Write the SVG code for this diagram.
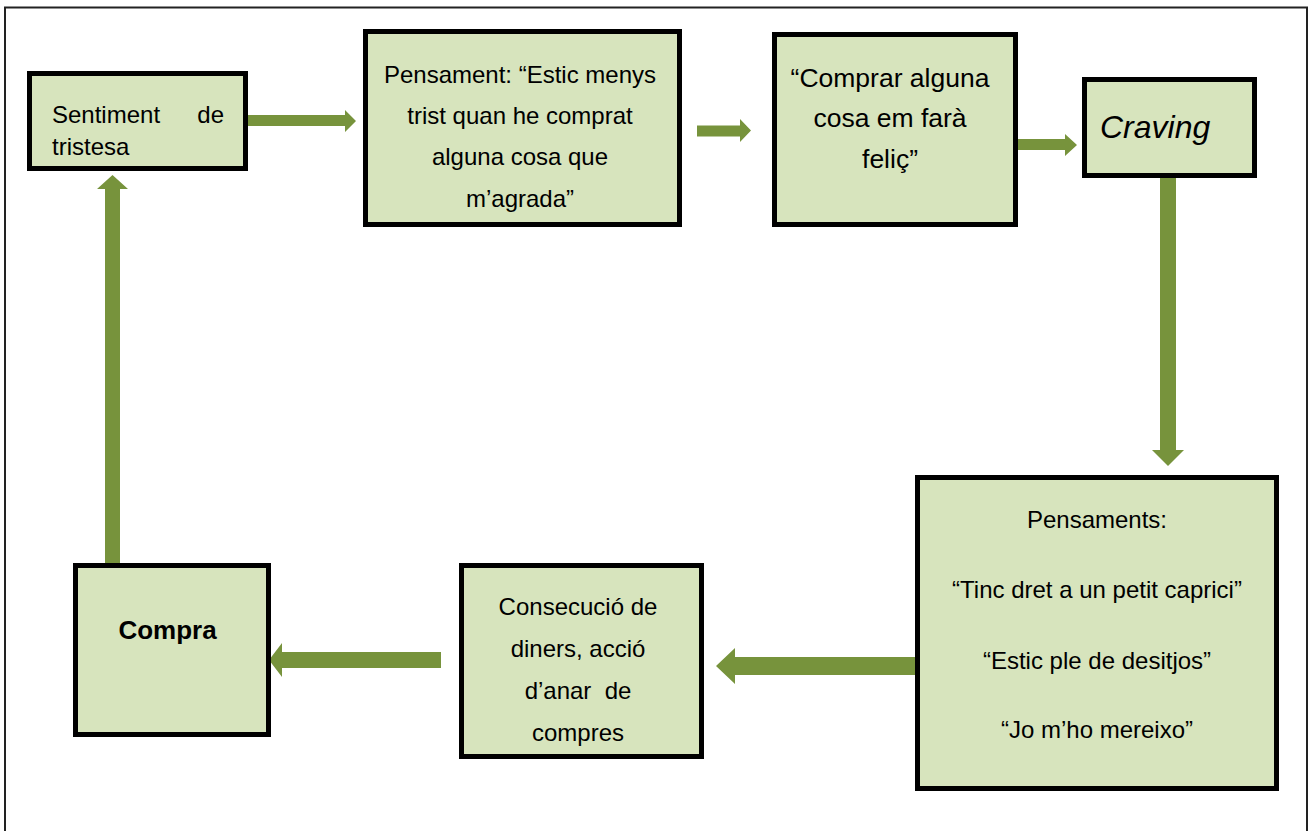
<svg xmlns="http://www.w3.org/2000/svg" width="1311" height="831" viewBox="0 0 1311 831">
<style>
.box{fill:#D7E4BD;stroke:#000;stroke-width:5}
.arr{fill:#77933C;stroke:none}
.t{font-family:"Liberation Sans",Arial,sans-serif;font-size:24px;fill:#000}
.c{text-anchor:middle}
</style>
<rect x="0" y="0" width="1311" height="831" fill="#fff"/>
<path d="M5,832 V7.5 H1307 V832" fill="none" stroke="#222" stroke-width="2"/>
<g id="connectors">
<polygon class="arr" points="243,115 345,115 345,110 356,121 345,132 345,126 243,126"/>
<polygon class="arr" points="697,125.5 740,125.5 740,119 751,130.5 740,142 740,136.5 697,136.5"/>
<polygon class="arr" points="1017,139 1065,139 1065,134 1077,145 1065,156 1065,150 1017,150"/>
<polygon class="arr" points="1160,178 1176,178 1176,450 1184,450 1168,466 1152,450 1160,450"/>
<polygon class="arr" points="915,657 735,657 735,648 716,666 735,684 735,675 915,675"/>
<polygon class="arr" points="441,652 282,652 282,643 269,660 282,677 282,668 441,668"/>
<polygon class="arr" points="105,563 105,189 97,189 112.5,175 128,189 120,189 120,563"/>
</g>
<g id="n1">
<rect class="box" x="29.5" y="73.5" width="216" height="95"/>
<text class="t" x="52" y="123">Sentiment</text>
<text class="t" x="224" y="123" text-anchor="end">de</text>
<text class="t" x="52" y="155">tristesa</text>
</g>
<g id="n2">
<rect class="box" x="365.5" y="31.5" width="314" height="193"/>
<text class="t c" x="520" y="83">Pensament: “Estic menys</text>
<text class="t c" x="520" y="124">trist quan he comprat</text>
<text class="t c" x="520" y="165">alguna cosa que</text>
<text class="t c" x="520" y="207">m’agrada”</text>
</g>
<g id="n3">
<rect class="box" x="774.5" y="34.5" width="241" height="190"/>
<text class="t c" x="890" y="87" style="font-size:26.5px">“Comprar alguna</text>
<text class="t c" x="890" y="127" style="font-size:26.5px">cosa em farà</text>
<text class="t c" x="890" y="168" style="font-size:26.5px">feliç”</text>
</g>
<g id="n4">
<rect class="box" x="1084.5" y="79.5" width="170" height="96"/>
<text class="t" x="1100" y="138" style="font-size:32px;font-style:italic">Craving</text>
</g>
<g id="n5">
<rect class="box" x="917.5" y="477.5" width="359" height="311"/>
<text class="t c" x="1097" y="528">Pensaments:</text>
<text class="t c" x="1097" y="598">“Tinc dret a un petit caprici”</text>
<text class="t c" x="1097" y="669">“Estic ple de desitjos”</text>
<text class="t c" x="1097" y="738">“Jo m’ho mereixo”</text>
</g>
<g id="n6">
<rect class="box" x="461.5" y="565.5" width="240" height="191"/>
<text class="t c" x="578" y="615">Consecució de</text>
<text class="t c" x="578" y="657">diners, acció</text>
<text class="t c" x="578" y="699" xml:space="preserve">d’anar  de</text>
<text class="t c" x="578" y="741">compres</text>
</g>
<g id="n7">
<rect class="box" x="75.5" y="565.5" width="193" height="169"/>
<text class="t c" x="167.5" y="639" style="font-size:26px;font-weight:bold">Compra</text>
</g>
</svg>
